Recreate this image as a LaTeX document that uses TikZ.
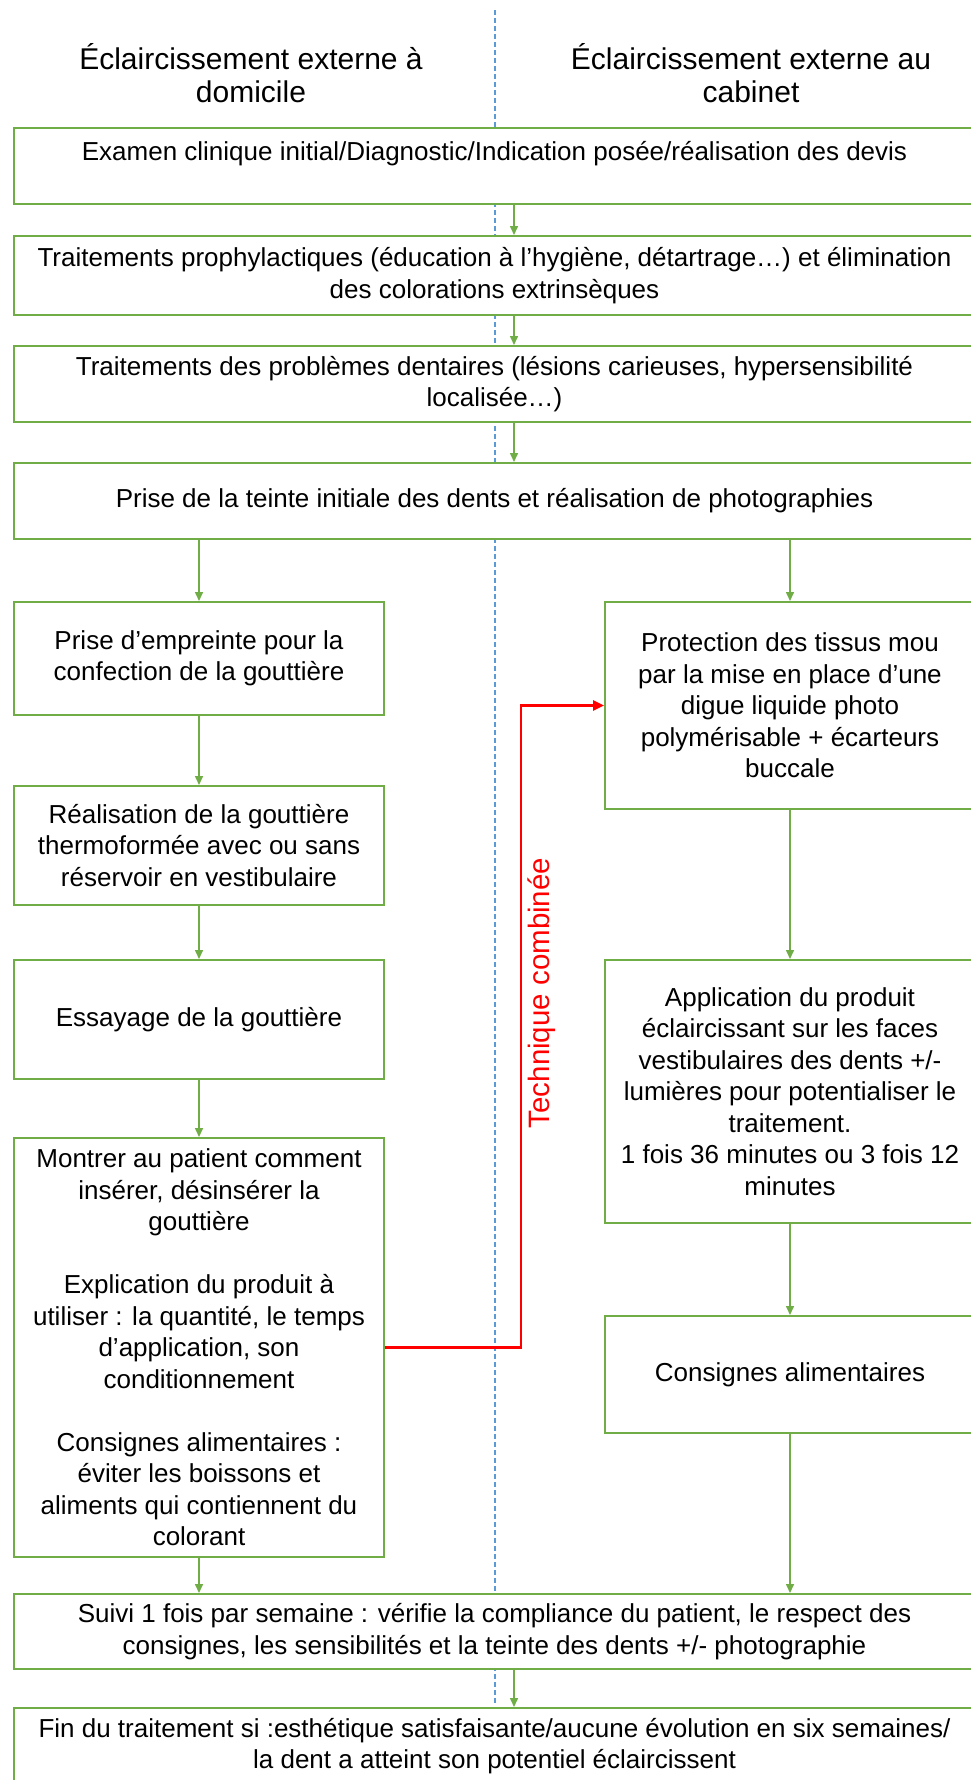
\documentclass[tikz,border=0pt]{standalone}
\usepackage{fontspec}
\setmainfont{Liberation Sans}
\usetikzlibrary{arrows.meta}

\definecolor{boxgreen}{HTML}{70AD47}
\definecolor{guideblue}{HTML}{5B9BD5}

\tikzset{
  box/.style = {draw = boxgreen, line width = 2pt, fill = white, align = center,
                inner sep = 0pt, font = \fontsize{26}{31.5}\selectfont},
  wide/.style = {box, minimum width = 961pt},
  narrow/.style = {box, minimum width = 370pt},
  flow/.style = {draw = boxgreen, line width = 1.5pt, -{Triangle[length = 9pt, width = 8pt]}},
  combi/.style = {draw = red, line width = 2.5pt, -{Triangle[length = 11pt, width = 10pt]}},
  guide/.style = {draw = guideblue, line width = 1.2pt, dash pattern = on 5pt off 3pt},
  head/.style = {align = center, font = \fontsize{30}{33}\selectfont},
}

\begin{document}
\begin{tikzpicture}[x = 1pt, y = -1pt]
            \useasboundingbox (0, 0) rectangle (971, 1780);
            \clip (0, 0) rectangle (971, 1780);

            % Separation line
            \draw [guide] (495, 10) -- (495, 1705);

            % Column titles
            \node [head] (HeadDomicile) at (251, 73) {Éclaircissement externe à\\domicile};
            \node [head] (HeadCabinet) at (751, 73) {Éclaircissement externe au\\cabinet};

            % Common steps
            \node [wide, minimum height = 76pt] (Examen) at (494.5, 166) {Examen clinique initial/Diagnostic/Indication posée/réalisation des devis\\[-10pt] \strut};
            \node [wide, minimum height = 79pt] (Prophy) at (494.5, 275.5) {Traitements prophylactiques (éducation à l’hygiène, détartrage…) et élimination\\des colorations extrinsèques};
            \node [wide, minimum height = 76pt] (Soins) at (494.5, 384) {Traitements des problèmes dentaires (lésions carieuses, hypersensibilité\\localisée…)};
            \node [wide, minimum height = 76pt] (Teinte) at (494.5, 501) {Prise de la teinte initiale des dents et réalisation de photographies};

            % Home bleaching
            \node [narrow, minimum height = 113pt] (Empreinte) at (199, 658.5) {Prise d’empreinte pour la\\confection de la gouttière};
            \node [narrow, minimum height = 119pt] (Gouttiere) at (199, 845.5) {Réalisation de la gouttière\\thermoformée avec ou sans\\réservoir en vestibulaire};
            \node [narrow, minimum height = 119pt] (Essayage) at (199, 1019.5) {Essayage de la gouttière};
            \node [narrow, minimum height = 419pt] (Montrer) at (199, 1347.5) {Montrer au patient comment\\insérer, désinsérer la\\gouttière\\[31.5pt]Explication du produit à\\utiliser : la quantité, le temps\\d’application, son\\conditionnement\\[31.5pt]Consignes alimentaires :\\éviter les boissons et\\aliments qui contiennent du\\colorant};

            % In-office bleaching
            \node [narrow, minimum height = 207pt] (Protection) at (790, 705.5) {Protection des tissus mou\\par la mise en place d’une\\digue liquide photo\\polymérisable + écarteurs\\buccale};
            \node [narrow, minimum height = 263pt] (Application) at (790, 1091.5) {Application du produit\\éclaircissant sur les faces\\vestibulaires des dents +/-\\lumières pour potentialiser le\\traitement.\\1 fois 36 minutes ou 3 fois 12\\minutes};
            \node [narrow, minimum height = 117pt] (Consignes) at (790, 1374.5) {Consignes alimentaires};

            % Follow-up
            \node [wide, minimum height = 75pt] (Suivi) at (494.5, 1631.5) {Suivi 1 fois par semaine : vérifie la compliance du patient, le respect des\\consignes, les sensibilités et la teinte des dents +/- photographie};
            \node [wide, minimum height = 76pt] (Fin) at (494.5, 1746) {Fin du traitement si :esthétique satisfaisante/aucune évolution en six semaines/\\la dent a atteint son potentiel éclaircissent};

            % Arrows
            \coordinate (Mid) at (514, 0);
            \draw [flow] (Examen.south -| Mid) -- (Prophy.north -| Mid);
            \draw [flow] (Prophy.south -| Mid) -- (Soins.north -| Mid);
            \draw [flow] (Soins.south -| Mid) -- (Teinte.north -| Mid);
            \draw [flow] (Teinte.south -| Empreinte) -- (Empreinte.north);
            \draw [flow] (Teinte.south -| Protection) -- (Protection.north);
            \draw [flow] (Empreinte) -- (Gouttiere);
            \draw [flow] (Gouttiere) -- (Essayage);
            \draw [flow] (Essayage) -- (Montrer);
            \draw [flow] (Montrer.south) -- (Suivi.north -| Montrer);
            \draw [flow] (Protection) -- (Application);
            \draw [flow] (Application) -- (Consignes);
            \draw [flow] (Consignes.south) -- (Suivi.north -| Consignes);
            \draw [flow] (Suivi.south -| Mid) -- (Fin.north -| Mid);

            % Combined technique
            \draw [combi] (Montrer.east) -- ++(136, 0) |- (Protection.west);
            \node [red, rotate = 90, font = \fontsize{29.5}{33}\selectfont] (Combi) at (542, 993) {Technique combinée};

        \end{tikzpicture}
\end{document}
